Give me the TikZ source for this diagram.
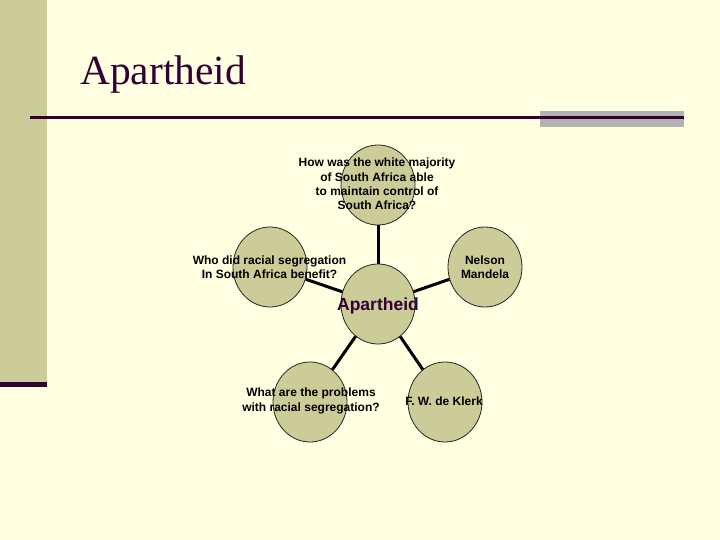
\documentclass[tikz,border=0pt]{standalone}
\usepackage{fontspec}
\setmainfont{Liberation Serif}
\setsansfont{Liberation Sans}
\usetikzlibrary{shapes.geometric}

\definecolor{slidebg}{RGB}{255,255,225}
\definecolor{khaki}{RGB}{204,204,153}
\definecolor{plum}{RGB}{51,0,51}
\definecolor{bargray}{RGB}{178,178,178}

\begin{document}
\begin{tikzpicture}[x=1pt,y=-1pt,
  topic node/.style={ellipse,draw=black!85,line width=0.8pt,fill=khaki,
    minimum width=74pt,minimum height=80pt,inner sep=0pt},
  topic text/.style={font=\sffamily\bfseries\fontsize{12}{14.3}\selectfont,
    align=center,inner sep=0pt},
  spoke/.style={line width=3pt,black}]

  % slide background
  \fill[slidebg] (0,0) rectangle (720,540);
  \useasboundingbox (0,0) rectangle (720,540);
  \fill[khaki] (0,0) rectangle (47,382);
  \fill[plum] (0,382) rectangle (47,387);
  \fill[bargray] (540,111) rectangle (684,127);
  \draw[plum,line width=3.5pt] (30,117.5) -- (684,117.5);

  \node[anchor=base west,inner sep=0pt,text=plum,
    font=\fontsize{41.5}{41.5}\selectfont] (title) at (80,85) {Apartheid};

  % bubbles
  \node[topic node] (centre) at (378,304) {};
  \node[topic node] (question) at (378,185) {};
  \node[topic node] (benefit) at (270,267) {};
  \node[topic node] (mandela) at (485,267) {};
  \node[topic node] (problems) at (310,402) {};
  \node[topic node] (deklerk) at (445,402) {};

  \path[spoke]
    (centre) edge (question)
    (centre) edge (benefit)
    (centre) edge (mandela)
    (centre) edge (problems)
    (centre) edge (deklerk);

  % texts
  \node[topic text,text=plum,font=\sffamily\bfseries\fontsize{17.5}{20}\selectfont]
    (centre text) at (378,305.5) {Apartheid};
  \node[topic text] (question text) at (377,184)
    {How was the white majority\\of South Africa able\\to maintain control of\\South Africa?};
  \node[topic text] (benefit text) at (269.5,267)
    {Who did racial segregation\\In South Africa benefit?};
  \node[topic text] (mandela text) at (485,267) {Nelson\\Mandela};
  \node[topic text] (problems text) at (311,401)
    {What are the problems\\with racial segregation?};
  \node[topic text] (deklerk text) at (444,401) {F. W. de Klerk};
\end{tikzpicture}
\end{document}
